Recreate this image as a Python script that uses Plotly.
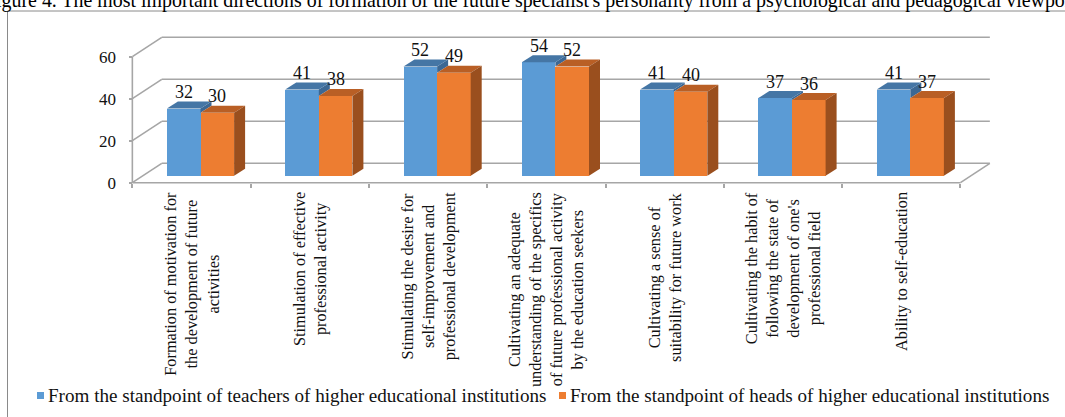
import plotly.graph_objects as go

# ---------------- data ----------------
category_lines = [
    ["Formation of motivation for", "the development of future", "activities"],
    ["Stimulation of effective", "professional activity"],
    ["Stimulating the desire for", "self-improvement and", "professional development"],
    ["Cultivating an adequate", "understanding of the specifics", "of future professional activity", "by the education seekers"],
    ["Cultivating a sense of", "suitability for future work"],
    ["Cultivating the habit of", "following the state of", "development of one's", "professional field"],
    ["Ability to self-education"],
]
teachers = [32, 41, 52, 54, 41, 37, 41]
heads = [30, 38, 49, 52, 40, 36, 37]
series_names = [
    "From the standpoint of teachers of higher educational institutions",
    "From the standpoint of heads of higher educational institutions",
]
y_ticks = [0, 20, 40, 60]
title_text = ("Figure 4. The most important directions of formation of the future "
              "specialist's personality from a psychological and pedagogical viewpoint")

# ---------------- geometry / style ----------------
W, H = 1065, 417
PX_CAT = 118.3      # pixels per category
PX_VAL = 2.1        # pixels per value unit
BAR0_X = 200.5      # pixel x of category 0 (bar plane)
BAR0_Y = 175.7      # pixel y of value 0 (bar plane)
BAR_W_PX = 33.6
FRONT_OFF = (-9.0, 7.0)    # front plane relative to bar plane (px, +y down)
BACK_OFF = (20.4, -12.4)   # back wall relative to bar plane
DEPTH_OFF = (11.0, -7.0)   # depth of one column

def dxu(px):
    return px / PX_CAT

def dyu(px):
    return -px / PX_VAL

n = len(teachers)
bw = dxu(BAR_W_PX)
fx, fy = dxu(FRONT_OFF[0]), dyu(FRONT_OFF[1])
bx, by = dxu(BACK_OFF[0]), dyu(BACK_OFF[1])
ddx, ddy = dxu(DEPTH_OFF[0]), dyu(DEPTH_OFF[1])

x_range = [(0 - BAR0_X) / PX_CAT, (W - BAR0_X) / PX_CAT]
y_range = [(BAR0_Y - H) / PX_VAL, (BAR0_Y - 0) / PX_VAL]

BLUE, BLUE_TOP, BLUE_SIDE = "#5B9BD5", "#4576A5", "#3C6894"
ORANGE, ORANGE_TOP, ORANGE_SIDE = "#ED7D31", "#B95F25", "#9A4F1E"
GRID = "#A6A6A6"
FONT = "Liberation Serif, Times New Roman, serif"
TXT = "#111111"

idx = list(range(n))

fig = go.Figure()
fig.add_trace(go.Bar(x=idx, y=teachers, width=bw, offset=-bw, name=series_names[0],
                     marker=dict(color=BLUE, line=dict(width=0)), showlegend=False))
fig.add_trace(go.Bar(x=idx, y=heads, width=bw, offset=0, name=series_names[1],
                     marker=dict(color=ORANGE, line=dict(width=0)), showlegend=False))

shapes = []

def poly(pts, color, layer="above"):
    d = "M " + " L ".join(f"{x},{y}" for x, y in pts) + " Z"
    return dict(type="path", path=d, xref="x", yref="y", fillcolor=color,
                line=dict(width=0), layer=layer)

def seg(x0, y0, x1, y1, color=GRID, w=1.6):
    return dict(type="line", x0=x0, y0=y0, x1=x1, y1=y1, xref="x", yref="y",
                line=dict(color=color, width=w), layer="below")

# walls / grid
xl_f, xr_f = -0.5 + fx, n - 0.5 + fx
xl_b, xr_b = -0.5 + bx, n - 0.5 + bx
for v in y_ticks:
    shapes.append(seg(xl_b, v + by, xr_b, v + by))
    shapes.append(seg(xl_f, v + fy, xl_b, v + by))
shapes.append(seg(xl_f, y_ticks[0] + fy, xl_f, y_ticks[-1] + fy))
shapes.append(seg(xl_f, fy, xr_f, fy))
shapes.append(seg(xr_f, fy, xr_b, by))

# 3-D faces of columns
for i in range(n):
    vb, vo = teachers[i], heads[i]
    xbl, xbr = i - bw, i
    xol, xor_ = i, i + bw
    if vb > vo:
        shapes.append(poly([(xbr, vo), (xbr, vb), (xbr + ddx, vb + ddy), (xbr + ddx, vo + ddy)], BLUE_SIDE))
    shapes.append(poly([(xol, vo), (xor_, vo), (xor_ + ddx, vo + ddy), (xol + ddx, vo + ddy)], ORANGE_TOP))
    shapes.append(poly([(xor_, 0), (xor_, vo), (xor_ + ddx, vo + ddy), (xor_ + ddx, ddy)], ORANGE_SIDE))
    shapes.append(poly([(xbl, vb), (xbr, vb), (xbr + ddx, vb + ddy), (xbl + ddx, vb + ddy)], BLUE_TOP))

# outer frame
shapes.append(dict(type="rect", xref="paper", yref="paper", x0=7.5 / W, x1=1.02,
                   y0=-0.02, y1=1 - 11.0 / H, line=dict(color="#8A8A8A", width=1),
                   fillcolor="rgba(0,0,0,0)", layer="below"))

annotations = []
# data labels
for i in range(n):
    for val, xc in ((teachers[i], i - bw / 2), (heads[i], i + bw / 2)):
        annotations.append(dict(x=xc, y=val, xref="x", yref="y", text=str(val),
                                showarrow=False, yanchor="middle", yshift=16.5,
                                font=dict(family=FONT, size=18, color=TXT)))
# category labels
for i, lines in enumerate(category_lines):
    annotations.append(dict(x=i + fx, y=fy + dyu(7.5), xref="x", yref="y",
                            text="<br>".join(lines), textangle=-90, showarrow=False,
                            xanchor="center", yanchor="top", align="center",
                            font=dict(family=FONT, size=16.3, color=TXT)))
# title
annotations.append(dict(x=-17.0 / W, y=1 - 0.5 / H, xref="paper", yref="paper",
                        text=title_text, showarrow=False, xanchor="left", yanchor="middle",
                        font=dict(family=FONT, size=19.9, color="#000000")))
# legend (custom)
leg_y = 395.5
for (sq_x, tx_x), name, col in zip([(37.0, 46.0), (559.0, 568.0)], series_names, [BLUE, ORANGE]):
    shapes.append(dict(type="rect", xref="paper", yref="paper",
                       x0=sq_x / W, x1=(sq_x + 7) / W,
                       y0=1 - (leg_y + 3.5) / H, y1=1 - (leg_y - 3.5) / H,
                       fillcolor=col, line=dict(width=0)))
    annotations.append(dict(x=tx_x / W, y=1 - leg_y / H, xref="paper", yref="paper",
                            text=name, showarrow=False, xanchor="left", yanchor="middle",
                            font=dict(family=FONT, size=19.1, color=TXT)))

fig.update_layout(
    width=W, height=H,
    margin=dict(l=0, r=0, t=0, b=0),
    paper_bgcolor="white", plot_bgcolor="white",
    barmode="overlay", bargap=0,
    shapes=shapes, annotations=annotations,
    showlegend=False,
    xaxis=dict(range=x_range, anchor="free", position=1 - (BAR0_Y + FRONT_OFF[1]) / H,
               tickmode="array", tickvals=[k - 0.5 + fx for k in range(n + 1)],
               showticklabels=False, ticks="outside", ticklen=4, tickwidth=1.5, tickcolor=GRID,
               showgrid=False, zeroline=False, showline=False, fixedrange=True),
    yaxis=dict(range=y_range, anchor="free", position=(BAR0_X + PX_CAT * xl_f) / W,
               tickmode="array", tickvals=[v + fy for v in y_ticks],
               ticktext=[str(v) for v in y_ticks],
               ticks="outside", ticklen=3, tickwidth=1.5, tickcolor=GRID,
               ticklabelstandoff=10,
               tickfont=dict(family=FONT, size=17, color=TXT),
               showgrid=False, zeroline=False, showline=False, fixedrange=True),
)

fig.write_html(
    "out.html",
    config={"displayModeBar": False},
    post_script="document.body.style.margin='0px';document.body.style.overflow='hidden';",
)
